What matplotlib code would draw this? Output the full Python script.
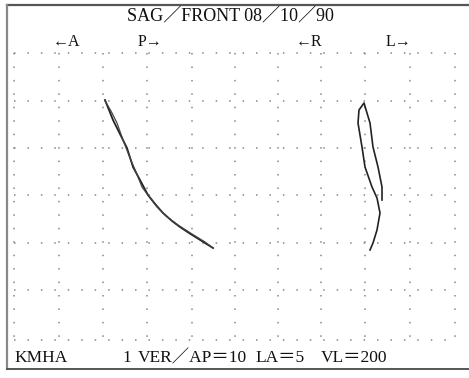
import matplotlib
matplotlib.use("Agg")
import matplotlib.pyplot as plt
import numpy as np

# Grid positions (pixel coordinates on the printout)
grid_x = [14, 59, 103, 147, 192, 235, 278, 321, 365, 410, 455]
grid_y = [53, 101, 148, 195, 243, 290, 340]

# Sagittal trace (two passes)
sag1_x = [105, 109, 113, 120, 127, 133, 140, 148, 156, 163, 172, 180, 189, 197, 205, 213]
sag1_y = [100, 110, 120, 134, 148, 167, 180, 195, 205, 213, 221, 227, 233, 238, 243, 248]
sag2_x = [105, 111, 117, 123, 130, 136, 142, 150, 157, 166, 178, 192, 205, 213]
sag2_y = [101, 111, 123, 140, 158, 172, 187, 198, 207, 216, 225, 234, 242, 248]

# Frontal trace (loop then tail)
fr_x = [382, 382, 378, 373, 370, 367, 364, 359, 358, 362, 365, 372, 377, 380, 377, 373, 370]
fr_y = [200, 187, 167, 147, 123, 113, 103, 110, 123, 147, 167, 187, 198, 213, 230, 243, 250]

title = "SAG／FRONT 08／10／90"
dir_labels = ["←A", "P→", "←R", "L→"]
dir_x = [66, 150, 309, 398]
footer = ["KMHA", "1", "VER／AP＝10", "LA＝5", "VL＝200"]
footer_x = [14, 122, 138, 255, 321]

fig = plt.figure(figsize=(4.69, 3.78), dpi=100)
ax = fig.add_axes([0, 0, 1, 1])
ax.set_xlim(0, 469)
ax.set_ylim(378, 0)
ax.axis("off")

# frame
ax.plot([7, 469], [5, 5], color="#555555", lw=1.6)
ax.plot([7, 7], [5, 369], color="#888888", lw=1.6)
ax.plot([7, 469], [369, 369], color="#555555", lw=1.4)

# dotted grid
for gx in grid_x:
    ax.plot([gx, gx], [grid_y[0], grid_y[-1]], color="#888888", lw=1.1,
            linestyle=(0, (1, 7.8)))
for gy in grid_y:
    ax.plot([grid_x[0], grid_x[-1]], [gy, gy], color="#888888", lw=1.1,
            linestyle=(0, (1, 7.8)))

# traces
ax.plot(sag1_x, sag1_y, color="#222222", lw=1.3)
ax.plot(sag2_x, sag2_y, color="#444444", lw=0.9)
ax.plot(fr_x, fr_y, color="#222222", lw=1.2)

fam = ["Liberation Serif", "Noto Sans CJK JP", "DejaVu Serif"]
ax.text(230, 16, title, ha="center", va="center", fontsize=13, family=fam,
        color="#111111")
for lab, x in zip(dir_labels, dir_x):
    ax.text(x, 42, lab, ha="center", va="center", fontsize=11.5, family=fam,
            color="#111111")
for lab, x in zip(footer, footer_x):
    ax.text(x, 358, lab, ha="left", va="center", fontsize=12.5, family=fam,
            color="#111111")

fig.savefig("out.png", dpi=100, facecolor="white")
